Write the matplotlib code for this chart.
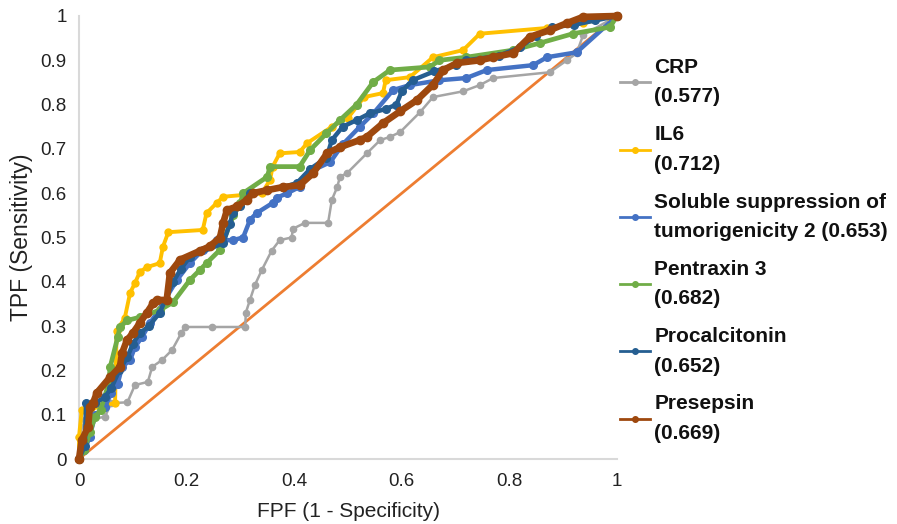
import matplotlib
matplotlib.use("Agg")
import matplotlib.pyplot as plt
from matplotlib.lines import Line2D

plt.rcParams['font.family'] = ['Liberation Sans', 'DejaVu Sans']

# ---- data ----
crp_x = [0, 0, 0.011, 0.048, 0.06, 0.09, 0.104, 0.128, 0.136, 0.154, 0.173, 0.19, 0.197, 0.247,
         0.309, 0.31, 0.318, 0.327, 0.34, 0.358, 0.373, 0.395, 0.398, 0.42, 0.463, 0.47, 0.48,
         0.485, 0.498, 0.535, 0.56, 0.578, 0.597, 0.634, 0.658, 0.714, 0.745, 0.77, 0.875,
         0.907, 0.925, 0.937, 1.0]
crp_y = [0, 0.05, 0.088, 0.095, 0.126, 0.128, 0.167, 0.174, 0.208, 0.223, 0.246, 0.284, 0.298,
         0.298, 0.298, 0.33, 0.36, 0.393, 0.427, 0.47, 0.494, 0.50, 0.52, 0.533, 0.533, 0.585,
         0.614, 0.637, 0.645, 0.69, 0.72, 0.727, 0.738, 0.783, 0.817, 0.83, 0.844, 0.86, 0.873,
         0.90, 0.916, 0.957, 1.0]

il6_x = [0, 0, 0.005, 0.02, 0.04, 0.067, 0.07, 0.085, 0.095, 0.104, 0.113, 0.126, 0.15, 0.156,
         0.166, 0.23, 0.237, 0.256, 0.268, 0.305, 0.34, 0.355, 0.36, 0.373, 0.41, 0.424, 0.47,
         0.50, 0.53, 0.565, 0.57, 0.615, 0.658, 0.714, 0.745, 0.87, 0.937, 0.987, 1.0]
il6_y = [0, 0.05, 0.11, 0.11, 0.12, 0.126, 0.29, 0.318, 0.375, 0.397, 0.422, 0.433, 0.442, 0.479,
         0.512, 0.517, 0.555, 0.578, 0.592, 0.596, 0.60, 0.63, 0.66, 0.69, 0.693, 0.713, 0.75,
         0.77, 0.817, 0.826, 0.855, 0.862, 0.907, 0.923, 0.96, 0.973, 0.984, 0.998, 1.0]

sst2_x = [0, 0.01, 0.02, 0.03, 0.048, 0.06, 0.072, 0.08, 0.095, 0.104, 0.117, 0.132, 0.145, 0.182,
          0.206, 0.23, 0.256, 0.286, 0.305, 0.318, 0.33, 0.36, 0.368, 0.387, 0.41, 0.435, 0.467,
          0.49, 0.522, 0.547, 0.584, 0.615, 0.67, 0.72, 0.758, 0.844, 0.87, 0.925, 1.0]
sst2_y = [0, 0.02, 0.05, 0.10, 0.117, 0.149, 0.17, 0.208, 0.223, 0.253, 0.275, 0.307, 0.33, 0.404,
          0.442, 0.472, 0.494, 0.494, 0.50, 0.54, 0.555, 0.578, 0.59, 0.60, 0.614, 0.652, 0.67,
          0.71, 0.75, 0.78, 0.833, 0.844, 0.855, 0.86, 0.878, 0.889, 0.907, 0.918, 1.0]

ptx3_x = [0, 0.01, 0.02, 0.03, 0.04, 0.055, 0.058, 0.072, 0.076, 0.09, 0.113, 0.15, 0.175, 0.206,
          0.225, 0.237, 0.262, 0.287, 0.30, 0.305, 0.35, 0.355, 0.41, 0.43, 0.46, 0.485, 0.516,
          0.547, 0.578, 0.652, 0.67, 0.72, 0.807, 0.857, 0.918, 0.987, 1.0]
ptx3_y = [0, 0.02, 0.06, 0.095, 0.11, 0.17, 0.208, 0.275, 0.298, 0.313, 0.32, 0.336, 0.354, 0.404,
          0.427, 0.442, 0.472, 0.55, 0.578, 0.60, 0.637, 0.66, 0.66, 0.698, 0.735, 0.765, 0.80,
          0.851, 0.878, 0.885, 0.90, 0.907, 0.923, 0.939, 0.96, 0.975, 1.0]

pct_x = [0, 0.011, 0.013, 0.03, 0.048, 0.06, 0.075, 0.09, 0.10, 0.113, 0.13, 0.15, 0.175, 0.19,
         0.206, 0.268, 0.28, 0.286, 0.30, 0.318, 0.38, 0.405, 0.43, 0.46, 0.47, 0.49, 0.516,
         0.54, 0.57, 0.59, 0.60, 0.62, 0.66, 0.70, 0.72, 0.78, 0.82, 0.85, 0.88, 0.92, 0.96, 1.0]
pct_y = [0, 0.03, 0.126, 0.126, 0.14, 0.16, 0.20, 0.23, 0.26, 0.284, 0.30, 0.33, 0.40, 0.43,
         0.456, 0.487, 0.53, 0.555, 0.57, 0.60, 0.614, 0.623, 0.655, 0.68, 0.72, 0.75, 0.765,
         0.78, 0.79, 0.80, 0.83, 0.855, 0.875, 0.89, 0.90, 0.91, 0.93, 0.955, 0.975, 0.98, 0.99, 1.0]

pse_x = [0, 0.005, 0.017, 0.02, 0.026, 0.033, 0.058, 0.076, 0.08, 0.089, 0.10, 0.113, 0.126,
         0.138, 0.145, 0.163, 0.169, 0.188, 0.225, 0.243, 0.262, 0.268, 0.275, 0.294, 0.312,
         0.323, 0.35, 0.38, 0.41, 0.435, 0.461, 0.485, 0.522, 0.535, 0.565, 0.597, 0.628, 0.658,
         0.677, 0.703, 0.745, 0.77, 0.807, 0.838, 0.875, 0.907, 0.937, 1.0]
pse_y = [0, 0.043, 0.072, 0.117, 0.126, 0.149, 0.185, 0.208, 0.239, 0.268, 0.284, 0.307, 0.33,
         0.352, 0.359, 0.359, 0.42, 0.45, 0.47, 0.48, 0.50, 0.533, 0.562, 0.57, 0.585, 0.60,
         0.607, 0.614, 0.618, 0.645, 0.69, 0.704, 0.72, 0.727, 0.758, 0.785, 0.81, 0.845, 0.878,
         0.894, 0.90, 0.907, 0.916, 0.953, 0.968, 0.984, 0.998, 1.0]

ref_x = [0, 1]
ref_y = [0, 1]

labels = ["CRP\n(0.577)", "IL6\n(0.712)",
          "Soluble suppression of\ntumorigenicity 2 (0.653)",
          "Pentraxin 3\n(0.682)", "Procalcitonin\n(0.652)", "Presepsin\n(0.669)"]
ticks = [0, 0.1, 0.2, 0.3, 0.4, 0.5, 0.6, 0.7, 0.8, 0.9, 1.0]
ytick_labels = ["0", "0.1", "0.2", "0.3", "0.4", "0.5", "0.6", "0.7", "0.8", "0.9", "1"]
xticks = [0, 0.2, 0.4, 0.6, 0.8, 1.0]
xtick_labels = ["0", "0.2", "0.4", "0.6", "0.8", "1"]

colors = ["#A5A5A5", "#FFC000", "#4472C4", "#70AD47", "#255E91", "#9E480E"]

fig = plt.figure(figsize=(8.97, 5.24), dpi=100)
ax = fig.add_axes([79/897, 65/524, 538/897, 443/524])

ax.plot(ref_x, ref_y, color="#ED7D31", lw=2.0, zorder=1, clip_on=False)

series = [(crp_x, crp_y, 1.8, 4.5), (il6_x, il6_y, 2.8, 5.0), (sst2_x, sst2_y, 3.2, 5.5),
          (ptx3_x, ptx3_y, 3.4, 5.5), (pct_x, pct_y, 3.2, 5.5), (pse_x, pse_y, 4.8, 6.0)]
handles = []
for i, (xs, ys, lw, ms) in enumerate(series):
    ax.plot(xs, ys, color=colors[i], lw=lw, marker='o', ms=ms, mec=colors[i], mfc=colors[i],
            zorder=2 + i, clip_on=False)
    handles.append(Line2D([0], [0], color=colors[i], lw=2, marker='o', ms=4))

ax.set_xlim(0, 1)
ax.set_ylim(0, 1)
ax.set_xticks(xticks)
ax.set_xticklabels(xtick_labels)
ax.set_yticks(ticks)
ax.set_yticklabels(ytick_labels)
ax.tick_params(axis='both', length=0, labelsize=13.5, colors="#222222")
ax.tick_params(axis='y', pad=9)
ax.tick_params(axis='x', pad=10)
for s in ['top', 'right']:
    ax.spines[s].set_visible(False)
for s in ['left', 'bottom']:
    ax.spines[s].set_color("#D9D9D9")
    ax.spines[s].set_linewidth(1.5)

ax.set_xlabel("FPF (1 - Specificity)", fontsize=15, color="#222222", labelpad=9)
ax.set_ylabel("TPF (Sensitivity)", fontsize=16.5, color="#222222", labelpad=5)

leg = fig.legend(handles, labels, loc='upper left', bbox_to_anchor=(620/897, 1 - 58/524),
                 frameon=False, prop={'weight': 'bold', 'size': 15}, handlelength=1.45,
                 handletextpad=0.2, labelspacing=0.9, borderpad=0, borderaxespad=0)
for t in leg.get_texts():
    t.set_linespacing(1.7)
    t.set_color("#111111")

fig.savefig("out.png", dpi=100)
